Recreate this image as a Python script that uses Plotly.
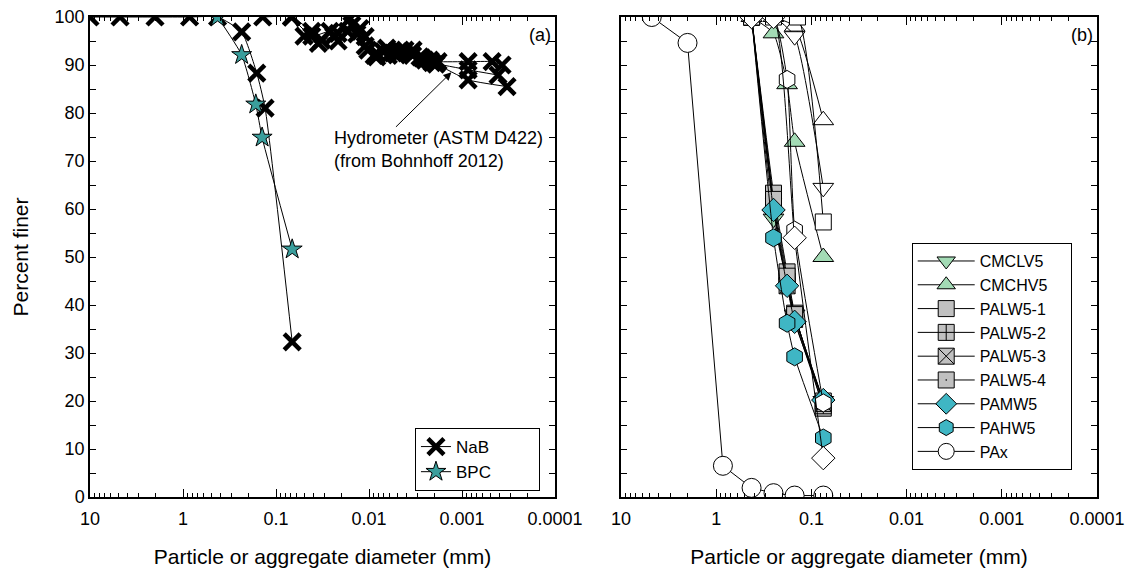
import numpy as np
import plotly.graph_objects as go

# ---------------- data: panel (a) ----------------
nab_sieve_d = [10, 4.75, 2, 0.85, 0.425, 0.234, 0.161, 0.131, 0.067]
nab_sieve_p = [100, 100, 100, 100, 100, 96.9, 88.3, 81, 32.3]

nab_h1_d = [0.139, 0.068, 0.0413, 0.0323, 0.0215, 0.016, 0.0125, 0.0103, 0.00827, 0.00645,
            0.00504, 0.0041, 0.00336, 0.00283, 0.00221, 0.00181, 0.00086, 0.000475, 0.000371]
nab_h1_p = [100, 100, 97, 95.2, 96.6, 99.7, 97.6, 93.1, 91.7, 93.5,
            92.1, 93.1, 93.1, 91.7, 91, 90.7, 90.7, 90.7, 90]
nab_h2_d = [0.068, 0.0413, 0.0263, 0.0215, 0.0153, 0.011, 0.0083, 0.0062, 0.0048, 0.0036,
            0.0027, 0.0021, 0.00086, 0.00041]
nab_h2_p = [100, 96, 97, 95, 98.3, 95.9, 92.5, 92, 92.8, 92.5,
            91.5, 90.5, 89, 87.9]
nab_h3_d = [0.068, 0.05, 0.035, 0.024, 0.017, 0.0135, 0.011, 0.0088, 0.007, 0.0055,
            0.0045, 0.0034, 0.0025, 0.0019, 0.00086, 0.000328]
nab_h3_p = [100, 96, 94.5, 96, 97, 96.5, 94, 92, 92.8, 92.5,
            92.8, 92, 91, 90.2, 86.9, 85.5]

bpc_d = [0.425, 0.234, 0.165, 0.141, 0.067]
bpc_p = [100, 92.1, 81.8, 74.9, 51.6]

# ---------------- data: panel (b) ----------------
cmclv5_d = [0.425, 0.25, 0.15, 0.075]
cmclv5_p = [100, 58, 38, 20]
cmchv5_d = [0.425, 0.25, 0.18, 0.15, 0.075]
cmchv5_p = [100, 96.6, 86, 74, 50]
palw51_d = [0.425, 0.25, 0.18, 0.15, 0.075]
palw51_p = [100, 63.3, 46.9, 38.3, 18.5]
palw52_d = [0.425, 0.25, 0.18, 0.15, 0.075]
palw52_p = [100, 61, 45, 37, 19]
palw53_d = [0.425, 0.25, 0.18, 0.15, 0.075]
palw53_p = [100, 60.5, 44, 37.5, 19.5]
palw54_d = [0.425, 0.25, 0.18, 0.15, 0.075]
palw54_p = [100, 62, 46, 38, 20]
pamw5_d = [0.425, 0.25, 0.18, 0.15, 0.075]
pamw5_p = [100, 59.8, 44, 36.5, 20.2]
pahw5_d = [0.425, 0.25, 0.18, 0.15, 0.075]
pahw5_p = [100, 54, 36.2, 29.2, 12.3]
pax_d = [4.75, 2, 0.85, 0.425, 0.25, 0.15, 0.075]
pax_p = [100, 94.6, 6.5, 1.9, 0.8, 0.3, 0.3]

# open (white) markers, not in legend
w_tri_d = [0.425, 0.25, 0.15, 0.075]
w_tri_p = [100, 100, 98, 78.5]
w_itri_d = [0.425, 0.25, 0.15, 0.075]
w_itri_p = [100, 100, 96, 64.4]
w_sq_d = [0.425, 0.25, 0.14, 0.075]
w_sq_p = [100, 100, 100, 57.3]
w_hex_d = [0.425, 0.25, 0.18, 0.15, 0.075]
w_hex_p = [100, 100, 87, 55.6, 19.6]
w_dia_d = [0.425, 0.25, 0.15, 0.075]
w_dia_p = [100, 100, 54, 8.1]

tick_vals = [10, 1, 0.1, 0.01, 0.001, 0.0001]
tick_text = ["10", "1", "0.1", "0.01", "0.001", "0.0001"]

FONT = "Arial, Liberation Sans, sans-serif"
GREEN = "#a3dbb5"
GRAY = "#c0c0c0"
TEAL = "#3fb6c4"
STAR = "#3a9e9c"
PAD = "&nbsp;"

fig = go.Figure()


def add(d, p, name, symbol, size, fill, xa, ya, legend, show=True, lw=1, shape="spline", pad=0):
    fig.add_trace(go.Scatter(
        x=d, y=p, name=name + PAD * pad, mode="lines+markers", xaxis=xa, yaxis=ya,
        line=dict(color="black", width=1, shape=shape, smoothing=0.5),
        showlegend=show, legend=legend, legendgroup=name,
        marker=dict(symbol=symbol, size=size, color=fill,
                    line=dict(color="black", width=lw)),
    ))


# panel (a)
add(nab_sieve_d, nab_sieve_p, "NaB", "x-thin", 16, "black", "x", "y", "legend", True, 4.5, pad=9)
for dd, pp in [(nab_h1_d, nab_h1_p), (nab_h2_d, nab_h2_p), (nab_h3_d, nab_h3_p)]:
    add(dd, pp, "NaB", "x-thin", 16, "black", "x", "y", "legend", False, 4.5, pad=9)
add(bpc_d, bpc_p, "BPC", "star", 15, STAR, "x", "y", "legend", True, 1, pad=9)

# panel (b)
add(cmclv5_d, cmclv5_p, "CMCLV5", "triangle-down", 18, GREEN, "x2", "y2", "legend2", pad=4)
add(cmchv5_d, cmchv5_p, "CMCHV5", "triangle-up", 18, GREEN, "x2", "y2", "legend2", pad=4)
add(palw51_d, palw51_p, "PALW5-1", "square", 16, GRAY, "x2", "y2", "legend2", pad=4)
add(palw52_d, palw52_p, "PALW5-2", "square-cross", 16, GRAY, "x2", "y2", "legend2", pad=4)
add(palw53_d, palw53_p, "PALW5-3", "square-x", 16, GRAY, "x2", "y2", "legend2", pad=4)
add(palw54_d, palw54_p, "PALW5-4", "square-dot", 16, GRAY, "x2", "y2", "legend2", pad=4)
add(pamw5_d, pamw5_p, "PAMW5", "diamond", 18, TEAL, "x2", "y2", "legend2", pad=4)
add(pahw5_d, pahw5_p, "PAHW5", "hexagon", 18, TEAL, "x2", "y2", "legend2", pad=4)
add(pax_d, pax_p, "PAx", "circle", 19, "white", "x2", "y2", "legend2", shape="linear", pad=4)
add(w_tri_d, w_tri_p, "w1", "triangle-up", 18, "white", "x2", "y2", "legend2", False)
add(w_itri_d, w_itri_p, "w2", "triangle-down", 18, "white", "x2", "y2", "legend2", False)
add(w_sq_d, w_sq_p, "w3", "square", 16, "white", "x2", "y2", "legend2", False)
add(w_hex_d, w_hex_p, "w4", "hexagon", 18, "white", "x2", "y2", "legend2", False)
add(w_dia_d, w_dia_p, "w5", "diamond", 18, "white", "x2", "y2", "legend2", False)

minor_vals = [m * 10.0 ** e for e in range(-4, 1) for m in range(2, 10)]


def xaxis(domain, anchor):
    return dict(
        domain=domain, anchor=anchor, type="log", range=[1, -4], automargin=False,
        tickvals=tick_vals, ticktext=tick_text, ticks="inside", ticklen=8,
        tickcolor="black", showline=True, linecolor="black", linewidth=1.5,
        mirror="ticks", showgrid=False, zeroline=False, ticklabelstandoff=5,
        tickfont=dict(family=FONT, size=18, color="black"),
        minor=dict(tickvals=minor_vals, ticks="inside", ticklen=4, tickcolor="black", showgrid=False),
        title=dict(text="Particle or aggregate diameter (mm)", standoff=21,
                   font=dict(family=FONT, size=21, color="black")),
    )


def yaxis(anchor, labels, title=None):
    d = dict(
        anchor=anchor, domain=[0, 1], range=[0, 100], dtick=10, ticks="inside", ticklen=6,
        tickcolor="black", showline=True, linecolor="black", linewidth=1.5, automargin=False,
        mirror="ticks", showgrid=False, zeroline=False, showticklabels=labels,
        tickfont=dict(family=FONT, size=18, color="black"),
        minor=dict(dtick=5, ticks="inside", ticklen=6, tickcolor="black", showgrid=False),
    )
    if title:
        d["title"] = dict(text=title, standoff=20, font=dict(family=FONT, size=21, color="black"))
    return d


lg = dict(bordercolor="black", borderwidth=1,
          bgcolor="white", xanchor="left", yanchor="top", tracegroupgap=0)

fig.update_layout(
    width=1130, height=576, autosize=False,
    margin=dict(l=90, r=33, t=17, b=79),
    paper_bgcolor="white", plot_bgcolor="white",
    font=dict(family=FONT, color="black"),
    xaxis=xaxis([0, 0.4618], "y"),
    yaxis=yaxis("x", True, "Percent finer"),
    xaxis2=xaxis([0.5273, 1], "y2"),
    yaxis2=yaxis("x2", False),
    legend=dict(lg, x=0.3227, y=0.1437, itemwidth=30,
                font=dict(family=FONT, size=17, color="black")),
    legend2=dict(lg, x=0.816, y=0.529, itemwidth=57,
                 font=dict(family=FONT, size=16, color="black")),
    annotations=[
        dict(xref="x domain", yref="y domain", x=0.995, y=0.962, text="(a)", showarrow=False,
             xanchor="right", yanchor="middle", font=dict(family=FONT, size=18, color="black")),
        dict(xref="x2 domain", yref="y2 domain", x=0.995, y=0.962, text="(b)", showarrow=False,
             xanchor="right", yanchor="middle", font=dict(family=FONT, size=18, color="black")),
        dict(xref="x", yref="y", x=np.log10(0.0253), y=72.5, xanchor="left", yanchor="middle",
             align="left", showarrow=False,
             text="Hydrometer (ASTM D422)<br>(from Bohnhoff 2012)",
             font=dict(family=FONT, size=18, color="black")),
        dict(xref="x", yref="y", x=np.log10(0.0013), y=88.5, axref="x", ayref="y",
             ax=np.log10(0.00533), ay=76.8, showarrow=True, text="",
             arrowhead=2, arrowsize=1.6, arrowwidth=1, arrowcolor="black"),
    ],
)

fig.write_html("out.html")
